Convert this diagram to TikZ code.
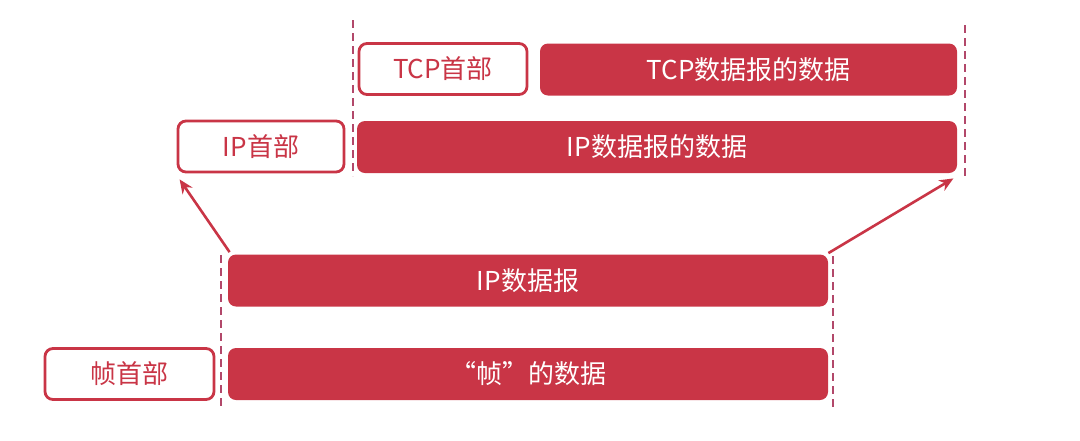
\documentclass[tikz,border=0pt]{standalone}
\usepackage{fontspec}
\newfontfamily\cjk{Noto Sans CJK SC}
\usetikzlibrary{arrows.meta, positioning}
\definecolor{crim}{HTML}{C93546}
\definecolor{guide}{HTML}{B2486A}

\begin{document}
\begin{tikzpicture}[
    x=0.5pt, y=-0.5pt,
    head/.style={rectangle, draw=crim, line width=1.4pt, fill=white, rounded corners=4pt, text=crim, font=\cjk\fontsize{13}{15}\selectfont, minimum height=25.5pt, inner sep=0pt},
    body/.style={rectangle, fill=crim, rounded corners=4pt, text=white, font=\cjk\fontsize{13}{15}\selectfont, minimum height=26pt, inner sep=0pt},
    guide/.style={draw=guide, line width=1pt, dash pattern=on 4pt off 2.5pt},
    arrow/.style={-{Stealth[length=7pt, width=6pt]}, line width=1.3pt, draw=crim}
]
    \useasboundingbox (0,0) rectangle (1080,440);

    \node[head, minimum width=84pt] (tcphead) at (443,69) {TCP首部};
    \node[body, minimum width=208.5pt] (tcpdata) at (748.5,69.5) {TCP数据报的数据};
    \node[head, minimum width=83pt] (iphead) at (261,146.5) {IP首部};
    \node[body, minimum width=300pt] (ipdata) at (657,147) {IP数据报的数据};
    \node[body, minimum width=300pt] (ipgram) at (528,280.5) {IP数据报};
    \node[head, minimum width=84.5pt] (framehead) at (129.5,374) {帧首部};
    \node[body, minimum width=300pt] (framedata) at (528,374) {“帧”的数据};

    \draw[guide] (353,20) -- (353,176);
    \draw[guide] (965,25) -- (965,176);
    \draw[guide] (221,255) -- (221,410);
    \draw[guide] (833,256) -- (833,410);

    \draw[arrow] ([shift={(2,-2)}]ipgram.north west) -- ([shift={(3,6)}]iphead.south west);
    \draw[arrow] ([shift={(0,-1)}]ipgram.north east) -- ([shift={(-4,5)}]ipdata.south east);
\end{tikzpicture}
\end{document}
